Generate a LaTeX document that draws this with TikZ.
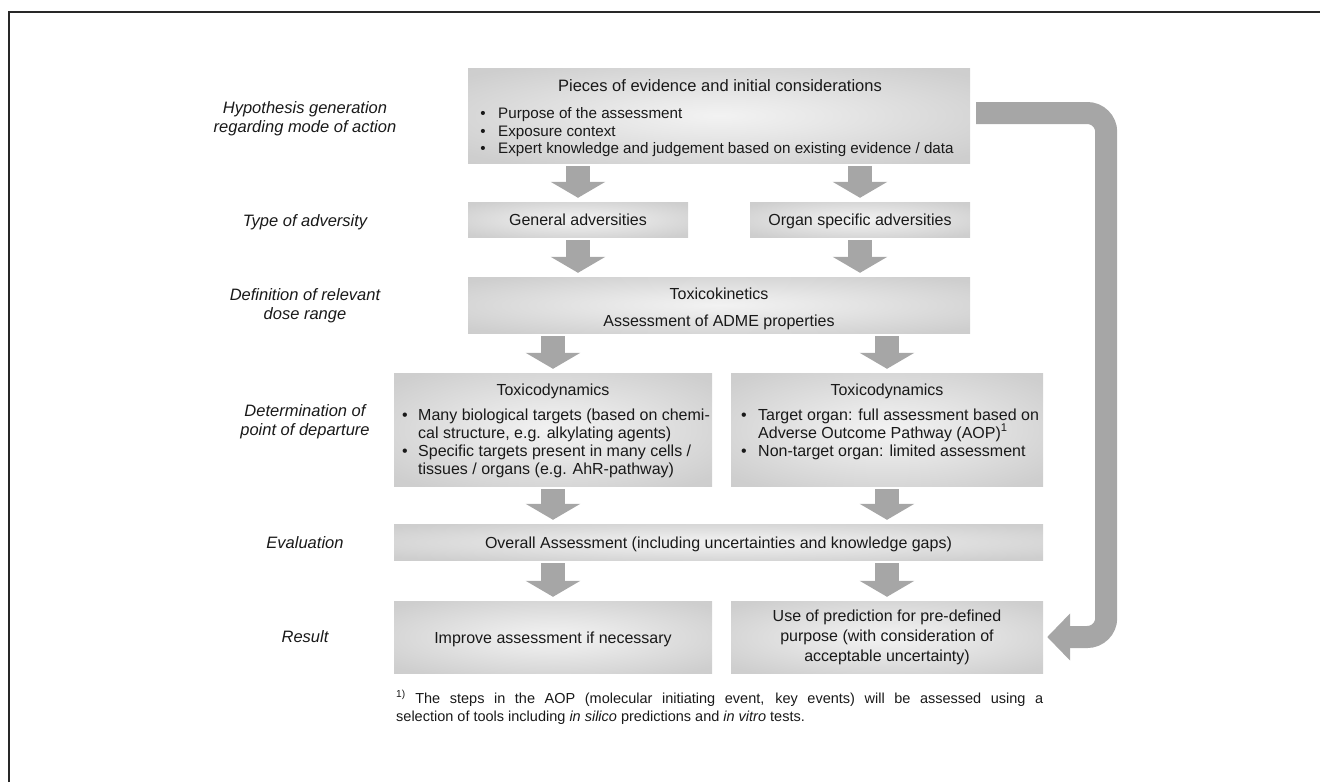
\documentclass[tikz,border=0pt]{standalone}
\usepackage{fontspec}
\setmainfont{Liberation Sans}
\usetikzlibrary{arrows.meta,calc}
\definecolor{arrowgray}{RGB}{166,166,166}
\definecolor{txtc}{RGB}{25,25,25}
\definecolor{framec}{RGB}{40,40,40}
\pgfdeclareradialshading{boxshade}{\pgfpoint{0bp}{0bp}}{rgb(0bp)=(0.95,0.95,0.95); rgb(10bp)=(0.91,0.91,0.91); rgb(32bp)=(0.81,0.81,0.81); rgb(50bp)=(0.78,0.78,0.78)}
\newcommand{\bulletline}[6][txt]{%
  \node[#1,anchor=base] (#2d) at (#3,#5) {\textbullet};
  \node[#1,anchor=base west] (#2) at (#4,#5) {#6};}
\begin{document}
\begin{tikzpicture}[x=1pt,y=-1pt,
  pbox/.style={shading=boxshade, inner sep=0pt, draw=none},
  txt/.style={font=\fontsize{16}{18}\selectfont, text=txtc, inner sep=0pt},
  ttl/.style={font=\fontsize{16.5}{18}\selectfont, text=txtc, inner sep=0pt},
  small/.style={font=\fontsize{15.2}{18}\selectfont, text=txtc, inner sep=0pt},
  lab/.style={font=\fontsize{16.5}{18}\selectfont\itshape, text=txtc, inner sep=0pt, anchor=base},
  fn/.style={font=\fontsize{14.5}{17}\selectfont, text=txtc, inner sep=0pt, anchor=base west},
  blk/.style={draw=arrowgray, line width=24pt, -{Triangle[length=16pt,width=54pt]}},
  bigarr/.style={draw=arrowgray, line width=22pt, rounded corners=19pt, -{Triangle[length=23pt,width=46pt]}}]
\useasboundingbox (0,0) rectangle (1320,782);
% frame
\draw[line width=1.3pt, framec] (9,782) -- (9,12) -- (1320,12);

% boxes
\node[pbox, minimum width=502pt, minimum height=95pt] (B1) at (719,115.5) {};
\node[pbox, minimum width=220pt, minimum height=35pt] (B2a) at (578,219.5) {};
\node[pbox, minimum width=220pt, minimum height=35pt] (B2b) at (860,219.5) {};
\node[pbox, minimum width=502pt, minimum height=56pt] (B3) at (719,305) {};
\node[pbox, minimum width=318pt, minimum height=113pt] (B4a) at (553,429.5) {};
\node[pbox, minimum width=312pt, minimum height=113pt] (B4b) at (887,429.5) {};
\node[pbox, minimum width=649pt, minimum height=36pt] (B5) at (718.5,542) {};
\node[pbox, minimum width=318pt, minimum height=72pt] (B6a) at (553,637) {};
\node[pbox, minimum width=312pt, minimum height=72pt] (B6b) at (887,637) {};

% left labels
\node[lab] (L1a) at (305,113) {Hypothesis generation};
\node[lab] (L1b) at (305,132.5) {regarding mode of action};
\node[lab] (L2) at (305,226) {Type of adversity};
\node[lab] (L3a) at (305,300) {Definition of relevant};
\node[lab] (L3b) at (305,319.5) {dose range};
\node[lab] (L4a) at (305,416) {Determination of};
\node[lab] (L4b) at (305,435.5) {point of departure};
\node[lab] (L5) at (305,548) {Evaluation};
\node[lab] (L6) at (305,642) {Result};

% box texts
\node[ttl,anchor=base] (B1t) at (720,91) {Pieces of evidence and initial considerations};
\bulletline[small]{B1i}{483}{498}{118}{Purpose of the assessment}
\bulletline[small]{B1ii}{483}{498}{136}{Exposure context}
\bulletline[small]{B1iii}{483}{498}{153.5}{Expert knowledge and judgement based on existing evidence / data}

\node[txt,anchor=base] (B2at) at (578,225.5) {General adversities};
\node[txt,anchor=base] (B2bt) at (860,225.5) {Organ specific adversities};

\node[txt,anchor=base] (B3t) at (719,299) {Toxicokinetics};
\node[txt,anchor=base] (B3s) at (719,326) {Assessment of ADME properties};

\node[txt,anchor=base] (B4at) at (553,395) {Toxicodynamics};
\bulletline{B4ai}{405}{418}{420}{Many biological targets (based on chemi-}
\node[txt,anchor=base west] (B4aic) at (418,438) {cal structure, e.g. alkylating agents)};
\bulletline{B4aii}{405}{418}{456}{Specific targets present in many cells /}
\node[txt,anchor=base west] (B4aiic) at (418,474) {tissues / organs (e.g. AhR-pathway)};

\node[txt,anchor=base] (B4bt) at (887,395) {Toxicodynamics};
\bulletline{B4bi}{744}{758}{420}{Target organ: full assessment based on}
\node[txt,anchor=base west] (B4bic) at (758,438) {Adverse Outcome Pathway (AOP)\textsuperscript{1}};
\bulletline{B4bii}{744}{758}{456}{Non-target organ: limited assessment}

\node[txt,anchor=base] (B5t) at (718.5,548) {Overall Assessment (including uncertainties and knowledge gaps)};

\node[txt,anchor=base] (B6at) at (553,643) {Improve assessment if necessary};
\node[txt,anchor=base] (B6bt1) at (887,621) {Use of prediction for pre-defined};
\node[txt,anchor=base] (B6bt2) at (887,641) {purpose (with consideration of};
\node[txt,anchor=base] (B6bt3) at (887,661) {acceptable uncertainty)};

% footnote
\node[fn] (F1) at (396,703) {\makebox[647pt][s]{\textsuperscript{1)} The steps in the AOP (molecular initiating event, key events) will be assessed using a}};
\node[fn] (F2) at (396,721) {selection of tools including \textit{in silico} predictions and \textit{in vitro} tests.};

% block arrows
\draw[blk] ($(B2a.north |- B1.south)+(0,3)$) -- ($(B2a.north)+(0,-4)$);
\draw[blk] ($(B2b.north |- B1.south)+(0,3)$) -- ($(B2b.north)+(0,-4)$);
\draw[blk] ($(B2a.south)+(0,3)$) -- ($(B2a.south |- B3.north)+(0,-4)$);
\draw[blk] ($(B2b.south)+(0,3)$) -- ($(B2b.south |- B3.north)+(0,-4)$);
\draw[blk] ($(B4a.north |- B3.south)+(0,3)$) -- ($(B4a.north)+(0,-4)$);
\draw[blk] ($(B4b.north |- B3.south)+(0,3)$) -- ($(B4b.north)+(0,-4)$);
\draw[blk] ($(B4a.south)+(0,3)$) -- ($(B4a.south |- B5.north)+(0,-4)$);
\draw[blk] ($(B4b.south)+(0,3)$) -- ($(B4b.south |- B5.north)+(0,-4)$);
\draw[blk] ($(B6a.north |- B5.south)+(0,3)$) -- ($(B6a.north)+(0,-4)$);
\draw[blk] ($(B6b.north |- B5.south)+(0,3)$) -- ($(B6b.north)+(0,-4)$);

% feedback arrow
\draw[bigarr] ($(B1.east)+(6,-2.5)$) -- ++(130,0) |- ($(B6b.east)+(4,0)$);
\end{tikzpicture}
\end{document}
